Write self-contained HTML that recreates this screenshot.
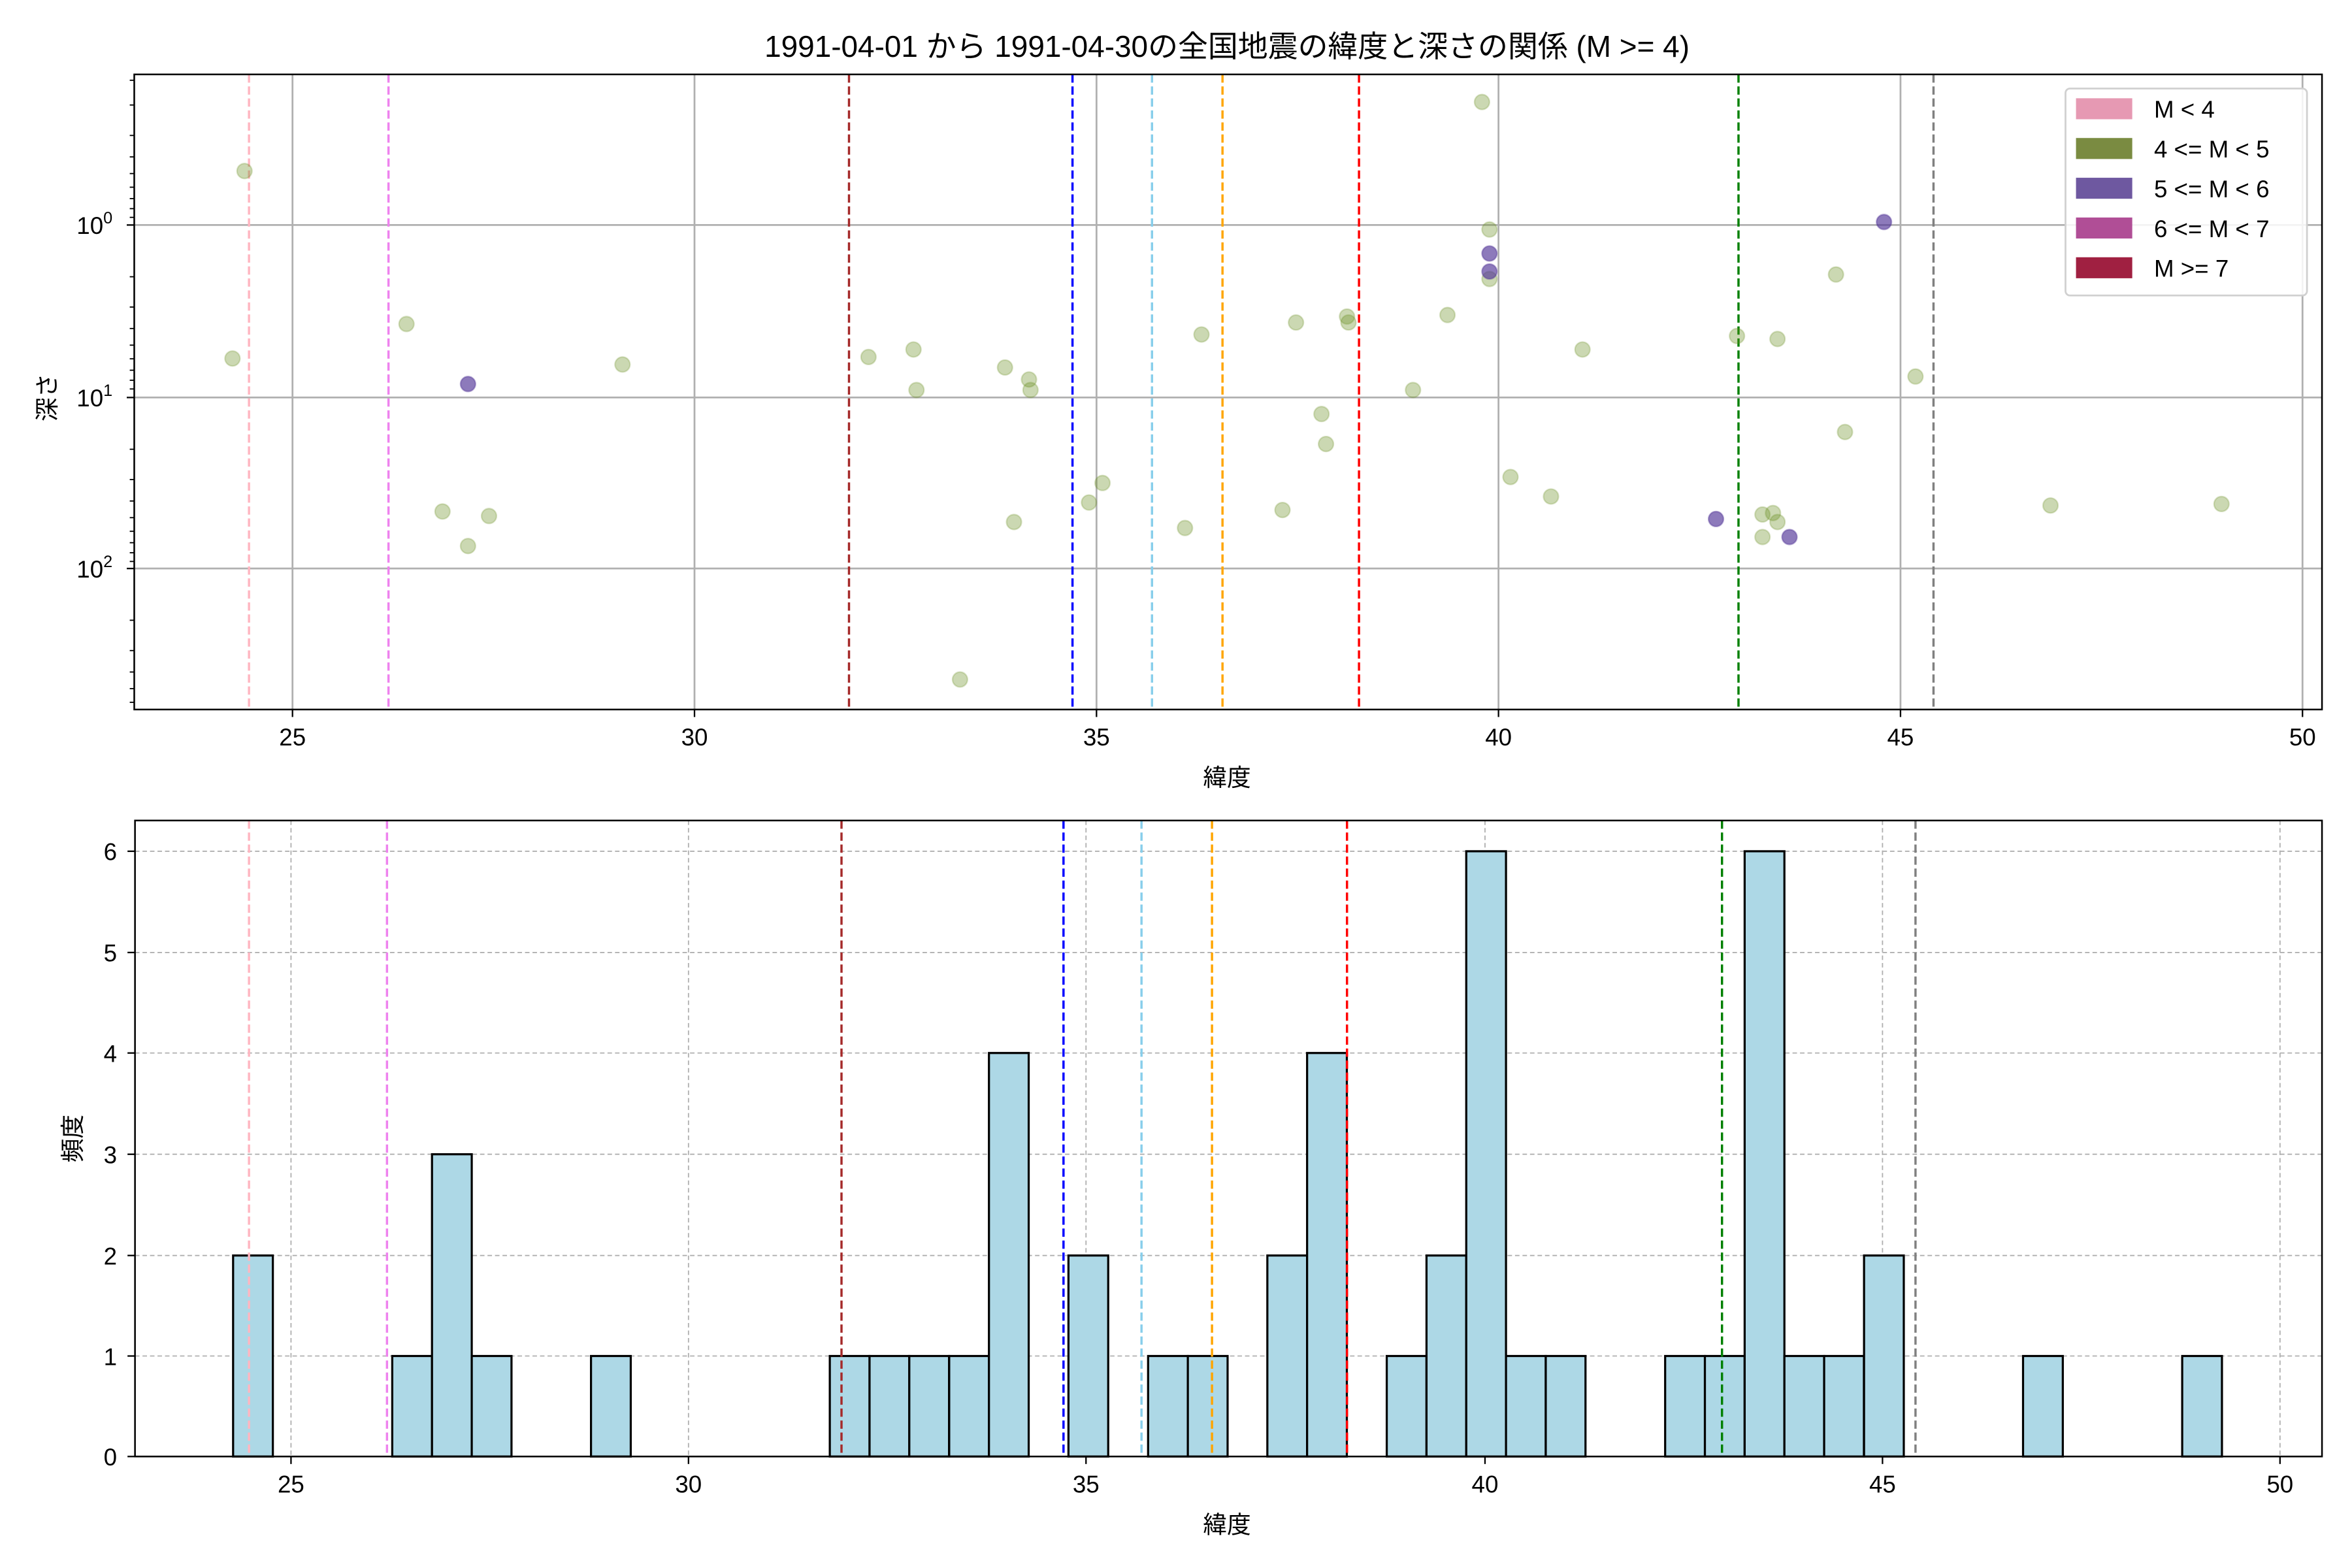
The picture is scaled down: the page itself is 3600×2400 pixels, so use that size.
<!DOCTYPE html>
<html><head><meta charset="utf-8"><style>html,body{margin:0;padding:0;background:#fff}svg{display:block}text{font-family:"Liberation Sans","Noto Sans CJK JP",sans-serif;fill:#000}</style></head>
<body>
<svg width="3600" height="2400" viewBox="0 0 1568 1045.33" xmlns="http://www.w3.org/2000/svg">
<rect width="1568" height="1046" fill="#fff"/>
<text x="818" y="38" font-size="20" text-anchor="middle">1991-04-01 から 1991-04-30の全国地震の緯度と深さの関係 (M &gt;= 4)</text>
<!-- TOP -->
<g stroke="#b0b0b0" stroke-width="1.2">
<line x1="195" y1="49.6" x2="195" y2="473"/><line x1="463" y1="49.6" x2="463" y2="473"/><line x1="731" y1="49.6" x2="731" y2="473"/><line x1="999" y1="49.6" x2="999" y2="473"/><line x1="1267" y1="49.6" x2="1267" y2="473"/><line x1="1535" y1="49.6" x2="1535" y2="473"/>
<line x1="89.5" y1="150" x2="1548" y2="150"/><line x1="89.5" y1="265" x2="1548" y2="265"/><line x1="89.5" y1="379" x2="1548" y2="379"/>
</g>
<g stroke-width="1.5" stroke-dasharray="5.5,2.5" fill="none">
<line x1="166" y1="49.6" x2="166" y2="473" stroke="#ffb6c1"/><line x1="259" y1="49.6" x2="259" y2="473" stroke="#ee82ee"/><line x1="566" y1="49.6" x2="566" y2="473" stroke="#a52a2a"/><line x1="715" y1="49.6" x2="715" y2="473" stroke="#0000ff"/><line x1="768" y1="49.6" x2="768" y2="473" stroke="#87ceeb"/><line x1="815" y1="49.6" x2="815" y2="473" stroke="#ffa500"/><line x1="906" y1="49.6" x2="906" y2="473" stroke="#ff0000"/><line x1="1159" y1="49.6" x2="1159" y2="473" stroke="#008000"/><line x1="1289" y1="49.6" x2="1289" y2="473" stroke="#808080"/>
</g>
<g fill="rgba(107,142,35,0.35)" stroke="rgba(107,142,35,0.25)" stroke-width="1">
<circle cx="163" cy="114" r="5"/><circle cx="155" cy="239" r="5"/><circle cx="271" cy="216" r="5"/><circle cx="295" cy="341" r="5"/><circle cx="312" cy="364" r="5"/><circle cx="326" cy="344" r="5"/><circle cx="415" cy="243" r="5"/><circle cx="579" cy="238" r="5"/><circle cx="609" cy="233" r="5"/><circle cx="611" cy="260" r="5"/><circle cx="640" cy="453" r="5"/><circle cx="670" cy="245" r="5"/><circle cx="676" cy="348" r="5"/><circle cx="686" cy="253" r="5"/><circle cx="687" cy="260" r="5"/><circle cx="726" cy="335" r="5"/><circle cx="735" cy="322" r="5"/><circle cx="790" cy="352" r="5"/><circle cx="801" cy="223" r="5"/><circle cx="855" cy="340" r="5"/><circle cx="864" cy="215" r="5"/><circle cx="881" cy="276" r="5"/><circle cx="884" cy="296" r="5"/><circle cx="898" cy="211" r="5"/><circle cx="899" cy="215" r="5"/><circle cx="942" cy="260" r="5"/><circle cx="965" cy="210" r="5"/><circle cx="988" cy="68" r="5"/><circle cx="993" cy="153" r="5"/><circle cx="993" cy="186" r="5"/><circle cx="1007" cy="318" r="5"/><circle cx="1034" cy="331" r="5"/><circle cx="1055" cy="233" r="5"/><circle cx="1158" cy="224" r="5"/><circle cx="1175" cy="343" r="5"/><circle cx="1175" cy="358" r="5"/><circle cx="1182" cy="342" r="5"/><circle cx="1185" cy="226" r="5"/><circle cx="1185" cy="348" r="5"/><circle cx="1224" cy="183" r="5"/><circle cx="1230" cy="288" r="5"/><circle cx="1277" cy="251" r="5"/><circle cx="1367" cy="337" r="5"/><circle cx="1481" cy="336" r="5"/>
</g>
<g fill="rgba(80,50,150,0.65)" stroke="rgba(80,50,150,0.4)" stroke-width="1">
<circle cx="312" cy="256" r="5"/><circle cx="993" cy="169" r="5"/><circle cx="993" cy="181" r="5"/><circle cx="1144" cy="346" r="5"/><circle cx="1193" cy="358" r="5"/><circle cx="1256" cy="148" r="5"/>
</g>
<rect x="89.5" y="49.6" width="1458.5" height="423.4" fill="none" stroke="#000" stroke-width="1.1"/>
<g stroke="#000" stroke-width="1">
<line x1="195" y1="473" x2="195" y2="478"/><line x1="463" y1="473" x2="463" y2="478"/><line x1="731" y1="473" x2="731" y2="478"/><line x1="999" y1="473" x2="999" y2="478"/><line x1="1267" y1="473" x2="1267" y2="478"/><line x1="1535" y1="473" x2="1535" y2="478"/>
<line x1="84.5" y1="150" x2="89.5" y2="150"/><line x1="84.5" y1="265" x2="89.5" y2="265"/><line x1="84.5" y1="379" x2="89.5" y2="379"/>
</g>
<g stroke="#000" stroke-width="0.8">
<line x1="86.5" y1="70" x2="89.5" y2="70"/><line x1="86.5" y1="90.3" x2="89.5" y2="90.3"/><line x1="86.5" y1="104.6" x2="89.5" y2="104.6"/><line x1="86.5" y1="115.7" x2="89.5" y2="115.7"/><line x1="86.5" y1="124.8" x2="89.5" y2="124.8"/><line x1="86.5" y1="132.4" x2="89.5" y2="132.4"/><line x1="86.5" y1="139.1" x2="89.5" y2="139.1"/><line x1="86.5" y1="144.9" x2="89.5" y2="144.9"/><line x1="86.5" y1="53.5" x2="89.5" y2="53.5"/>
<line x1="86.5" y1="184.5" x2="89.5" y2="184.5"/><line x1="86.5" y1="204.7" x2="89.5" y2="204.7"/><line x1="86.5" y1="219" x2="89.5" y2="219"/><line x1="86.5" y1="230.1" x2="89.5" y2="230.1"/><line x1="86.5" y1="239.2" x2="89.5" y2="239.2"/><line x1="86.5" y1="246.8" x2="89.5" y2="246.8"/><line x1="86.5" y1="253.5" x2="89.5" y2="253.5"/><line x1="86.5" y1="259.3" x2="89.5" y2="259.3"/>
<line x1="86.5" y1="299.5" x2="89.5" y2="299.5"/><line x1="86.5" y1="319.7" x2="89.5" y2="319.7"/><line x1="86.5" y1="334" x2="89.5" y2="334"/><line x1="86.5" y1="345.1" x2="89.5" y2="345.1"/><line x1="86.5" y1="354.2" x2="89.5" y2="354.2"/><line x1="86.5" y1="361.8" x2="89.5" y2="361.8"/><line x1="86.5" y1="368.5" x2="89.5" y2="368.5"/><line x1="86.5" y1="374.3" x2="89.5" y2="374.3"/>
<line x1="86.5" y1="413.5" x2="89.5" y2="413.5"/><line x1="86.5" y1="433.7" x2="89.5" y2="433.7"/><line x1="86.5" y1="448" x2="89.5" y2="448"/><line x1="86.5" y1="459.1" x2="89.5" y2="459.1"/><line x1="86.5" y1="468.2" x2="89.5" y2="468.2"/>
</g>
<g font-size="16" text-anchor="middle">
<text x="195" y="497">25</text><text x="463" y="497">30</text><text x="731" y="497">35</text><text x="999" y="497">40</text><text x="1267" y="497">45</text><text x="1535" y="497">50</text>
</g>
<g font-size="16" text-anchor="end">
<text x="75" y="156">10<tspan font-size="11" dy="-7">0</tspan></text>
<text x="75" y="271">10<tspan font-size="11" dy="-7">1</tspan></text>
<text x="75" y="385">10<tspan font-size="11" dy="-7">2</tspan></text>
</g>
<text x="818" y="524" font-size="16" text-anchor="middle">緯度</text>
<text transform="translate(37,265) rotate(-90)" font-size="16" text-anchor="middle">深さ</text>
<!-- legend -->
<rect x="1377" y="59" width="161" height="138" rx="3" fill="#fff" fill-opacity="0.85" stroke="#d0d0d0" stroke-width="1.2"/>
<rect x="1384" y="65.5" width="37.5" height="14" fill="#e699b3"/>
<rect x="1384" y="92" width="37.5" height="14" fill="#7a8b41"/>
<rect x="1384" y="118.5" width="37.5" height="14" fill="#6e58a0"/>
<rect x="1384" y="145" width="37.5" height="14" fill="#b04e96"/>
<rect x="1384" y="171.5" width="37.5" height="14" fill="#a02041"/>
<g font-size="16">
<text x="1436" y="78.5">M &lt; 4</text><text x="1436" y="105">4 &lt;= M &lt; 5</text><text x="1436" y="131.5">5 &lt;= M &lt; 6</text><text x="1436" y="158">6 &lt;= M &lt; 7</text><text x="1436" y="184.5">M &gt;= 7</text>
</g>
<!-- BOTTOM -->
<g stroke="#b0b0b0" stroke-width="0.8" stroke-dasharray="3,2">
<line x1="194" y1="547" x2="194" y2="971"/><line x1="459" y1="547" x2="459" y2="971"/><line x1="724" y1="547" x2="724" y2="971"/><line x1="990" y1="547" x2="990" y2="971"/><line x1="1255" y1="547" x2="1255" y2="971"/><line x1="1520" y1="547" x2="1520" y2="971"/>
<line x1="90" y1="971" x2="1548" y2="971"/><line x1="90" y1="904" x2="1548" y2="904"/><line x1="90" y1="837" x2="1548" y2="837"/><line x1="90" y1="769.5" x2="1548" y2="769.5"/><line x1="90" y1="702" x2="1548" y2="702"/><line x1="90" y1="635" x2="1548" y2="635"/><line x1="90" y1="567.5" x2="1548" y2="567.5"/>
</g>
<g fill="#add8e6" stroke="#000" stroke-width="1.4">
<rect x="155.4" y="837" width="26.5" height="134"/>
<rect x="261.5" y="904" width="26.5" height="67"/>
<rect x="288" y="769.5" width="26.5" height="201.5"/>
<rect x="314.5" y="904" width="26.5" height="67"/>
<rect x="394" y="904" width="26.5" height="67"/>
<rect x="553.2" y="904" width="26.5" height="67"/>
<rect x="579.7" y="904" width="26.5" height="67"/>
<rect x="606.2" y="904" width="26.5" height="67"/>
<rect x="632.8" y="904" width="26.5" height="67"/>
<rect x="659.3" y="702" width="26.5" height="269"/>
<rect x="712.3" y="837" width="26.5" height="134"/>
<rect x="765.4" y="904" width="26.5" height="67"/>
<rect x="791.9" y="904" width="26.5" height="67"/>
<rect x="844.9" y="837" width="26.5" height="134"/>
<rect x="871.4" y="702" width="26.5" height="269"/>
<rect x="924.5" y="904" width="26.5" height="67"/>
<rect x="951" y="837" width="26.5" height="134"/>
<rect x="977.5" y="567.5" width="26.5" height="403.5"/>
<rect x="1004" y="904" width="26.5" height="67"/>
<rect x="1030.5" y="904" width="26.5" height="67"/>
<rect x="1110.1" y="904" width="26.5" height="67"/>
<rect x="1136.6" y="904" width="26.5" height="67"/>
<rect x="1163.1" y="567.5" width="26.5" height="403.5"/>
<rect x="1189.6" y="904" width="26.5" height="67"/>
<rect x="1216.1" y="904" width="26.5" height="67"/>
<rect x="1242.7" y="837" width="26.5" height="134"/>
<rect x="1348.7" y="904" width="26.5" height="67"/>
<rect x="1454.8" y="904" width="26.5" height="67"/>
</g>
<g stroke-width="1.5" stroke-dasharray="5.5,2.5" fill="none">
<line x1="166" y1="547" x2="166" y2="971" stroke="#ffb6c1"/><line x1="258" y1="547" x2="258" y2="971" stroke="#ee82ee"/><line x1="561" y1="547" x2="561" y2="971" stroke="#a52a2a"/><line x1="709" y1="547" x2="709" y2="971" stroke="#0000ff"/><line x1="761" y1="547" x2="761" y2="971" stroke="#87ceeb"/><line x1="808" y1="547" x2="808" y2="971" stroke="#ffa500"/><line x1="898" y1="547" x2="898" y2="971" stroke="#ff0000"/><line x1="1148" y1="547" x2="1148" y2="971" stroke="#008000"/><line x1="1277" y1="547" x2="1277" y2="971" stroke="#808080"/>
</g>
<rect x="90" y="547" width="1458" height="424" fill="none" stroke="#000" stroke-width="1.1"/>
<g stroke="#000" stroke-width="1">
<line x1="194" y1="971" x2="194" y2="976"/><line x1="459" y1="971" x2="459" y2="976"/><line x1="724" y1="971" x2="724" y2="976"/><line x1="990" y1="971" x2="990" y2="976"/><line x1="1255" y1="971" x2="1255" y2="976"/><line x1="1520" y1="971" x2="1520" y2="976"/>
<line x1="85" y1="971" x2="90" y2="971"/><line x1="85" y1="904" x2="90" y2="904"/><line x1="85" y1="837" x2="90" y2="837"/><line x1="85" y1="769.5" x2="90" y2="769.5"/><line x1="85" y1="702" x2="90" y2="702"/><line x1="85" y1="635" x2="90" y2="635"/><line x1="85" y1="567.5" x2="90" y2="567.5"/>
</g>
<g font-size="16" text-anchor="middle">
<text x="194" y="995">25</text><text x="459" y="995">30</text><text x="724" y="995">35</text><text x="990" y="995">40</text><text x="1255" y="995">45</text><text x="1520" y="995">50</text>
</g>
<g font-size="16" text-anchor="end">
<text x="78" y="977">0</text><text x="78" y="910">1</text><text x="78" y="843">2</text><text x="78" y="775.5">3</text><text x="78" y="708">4</text><text x="78" y="641">5</text><text x="78" y="573.5">6</text>
</g>
<text x="818" y="1022" font-size="16" text-anchor="middle">緯度</text>
<text transform="translate(54,759) rotate(-90)" font-size="16" text-anchor="middle">頻度</text>
</svg>
</body></html>
